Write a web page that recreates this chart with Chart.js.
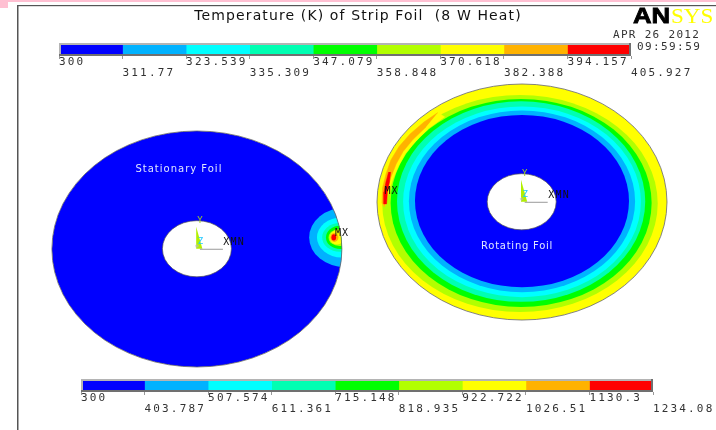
<!DOCTYPE html>
<html>
<head>
<meta charset="utf-8">
<title>Temperature (K) of Strip Foil</title>
<script src="https://cdn.jsdelivr.net/npm/chart.js@4/dist/chart.umd.js"></script>
<style>
  html, body { margin: 0; padding: 0; background: #fff; overflow: hidden; }
  canvas { position: absolute; left: 0; }
  #main { top: 0; }
  #tempBar { top: 43px; }
  #heatBar { top: 379px; }
</style>
</head>
<body>
<canvas id="main" width="716" height="430"></canvas>
<canvas id="tempBar" width="716" height="43"></canvas>
<canvas id="heatBar" width="716" height="43"></canvas>
<script>
// Contour colours, coolest to hottest
const bandColors = ['#0000ff', '#00b2ff', '#00ffff', '#00ffb2', '#00ff00', '#b2ff00', '#ffff00', '#ffb200', '#ff0000'];

// Colour bar limits
const tempTicks = [300, 311.77, 323.539, 335.309, 347.079, 358.848, 370.618, 382.388, 394.157, 405.927];
const tempLabels = ['300', '311.77', '323.539', '335.309', '347.079', '358.848', '370.618', '382.388', '394.157', '405.927'];
const heatTicks = [300, 403.787, 507.574, 611.361, 715.148, 818.935, 922.722, 1026.51, 1130.3, 1234.08];
const heatLabels = ['300', '403.787', '507.574', '611.361', '715.148', '818.935', '922.722', '1026.51', '1130.3', '1234.08'];

// Stationary foil: disc, hot spot contours, centre hole (mm)
const statColors = [0, 1, 2, 3, 4, 5, 6, 7, 8];
const statX = [67.9, 119.3, 117.8, 117.2, 117.3, 117.1, 116.2, 115.3, 115.1];
const statY = [76.7, 81.6, 81.6, 81.6, 81.6, 81.6, 81.6, 81.6, 81.6];
const statRx = [50, 12.7, 8.5, 6.1, 4.9, 3.8, 2.5, 1.4, 0.8];
const statRy = [50, 12.7, 8.5, 6.1, 4.9, 3.6, 3.0, 1.9, 1.3];
const statHole = { x: 67.9, y: 76.8, r: 11.9 };

// Rotating foil: disc and contour rings, outside to inside (mm)
const rotColors = [6, 5, 4, 3, 2, 1, 0];
const rotX = [180, 179.3, 179.7, 179.7, 180, 180, 180];
const rotY = [96.6, 96.0, 96.2, 96.8, 96.7, 96.9, 97.0];
const rotRx = [50, 47.5, 45.0, 42.8, 41.0, 39.0, 36.9];
const rotRy = [50, 46.0, 44.1, 42.5, 40.4, 38.5, 36.5];
const rotHole = { x: 179.9, y: 96.7, r: 11.9 };

// Hot crescents on the rotating foil
const yellowX = [153.4, 151.0, 146.2, 141.4, 137.6, 134.8, 133.1, 131.9, 131.7, 132.6, 134.0, 135.5, 137.4, 139.8, 143.3, 147.6];
const yellowY = [132.6, 134.5, 130.5, 125.4, 120.1, 114.4, 108.5, 102.5, 96.2, 94.5, 100.8, 106.4, 111.9, 117.2, 122.2, 127.5];
const orangeX = [151.0, 146.2, 141.4, 137.6, 134.8, 133.1, 131.9, 131.7, 132.6, 133.4, 134.7, 136.6, 139.0, 142.4, 146.9];
const orangeY = [134.5, 130.5, 125.4, 120.1, 114.4, 108.5, 102.5, 96.2, 94.5, 100.8, 106.8, 112.7, 118.0, 123.1, 128.4];
const redX = [134.0, 133.1, 132.4, 132.4, 133.3, 133.6, 134.3, 134.7];
const redY = [109.3, 105.1, 100.8, 95.8, 95.8, 100.8, 105.1, 109.3];

const monoFont = '"DejaVu Sans Mono"';
const sansFont = '"DejaVu Sans"';

function ringSets(xs, ys, rxs, rys, colors, group) {
  return xs.map((x, i) => ({
    label: group + ' ' + i,
    ring: true,
    data: [{ x: x, y: ys[i], rx: rxs[i], ry: rys[i] }],
    backgroundColor: bandColors[colors[i]],
    pointRadius: 0
  }));
}

function crescent(xs, ys, color, name) {
  return {
    label: name,
    data: xs.map((x, i) => ({ x: x, y: ys[i] })),
    showLine: true,
    fill: 'shape',
    backgroundColor: color,
    borderColor: color,
    borderWidth: 0.5,
    pointRadius: 0
  };
}

const ellipsePath = (ctx, chart, c, rx, ry) => {
  const sx = chart.scales.x, sy = chart.scales.y;
  const px = sx.getPixelForValue(c.x), py = sy.getPixelForValue(c.y);
  ctx.beginPath();
  ctx.ellipse(px, py,
    Math.abs(sx.getPixelForValue(c.x + rx) - px),
    Math.abs(sy.getPixelForValue(c.y + ry) - py), 0, 0, Math.PI * 2);
};

const drawText = (ctx, text, x, y, font, color, spacing, align) => {
  ctx.save();
  ctx.font = font;
  ctx.fillStyle = color;
  ctx.letterSpacing = spacing + 'px';
  ctx.textAlign = align || 'center';
  ctx.textBaseline = 'middle';
  ctx.fillText(text, x, y);
  ctx.restore();
};

function drawTriad(ctx, chart, hole, xLabelAt) {
  const cx = chart.scales.x.getPixelForValue(hole.x);
  const cy = chart.scales.y.getPixelForValue(hole.y);
  ctx.save();
  ctx.fillStyle = '#b2f000';
  ctx.beginPath();
  ctx.moveTo(cx - 0.7, cy - 22);
  ctx.lineTo(cx + 5.5, cy);
  ctx.lineTo(cx - 0.7, cy);
  ctx.closePath();
  ctx.fill();
  ctx.strokeStyle = '#999';
  ctx.lineWidth = 1;
  ctx.beginPath();
  ctx.moveTo(cx + 3, cy + 0.5);
  ctx.lineTo(cx + 26, cy + 0.5);
  ctx.stroke();
  ctx.restore();
  drawText(ctx, 'Y', cx + 3, cy - 28.5, '9px ' + monoFont, '#9ed020', 0);
  drawText(ctx, 'Z', cx + 3.5, cy - 7, '9px ' + monoFont, '#20c8ff', 0);
  drawText(ctx, '*', cx, cy, '9px ' + monoFont, '#bbb', 0);
  drawText(ctx, 'XMN', chart.scales.x.getPixelForValue(xLabelAt.x), chart.scales.y.getPixelForValue(xLabelAt.y), '10px ' + monoFont, '#111', 1.2);
}

// Draws the foils through the scales, below the crescent datasets
const foilPlugin = {
  id: 'foils',
  beforeDraw(chart) {
    const ctx = chart.ctx;
    ctx.letterSpacing = '1.12px';
    ctx.save();
    ctx.fillStyle = '#ffc0d2';
    ctx.fillRect(0, 0, 716, 2);
    ctx.fillRect(0, 0, 8, 8);
    ctx.fillStyle = '#555';
    ctx.fillRect(17, 5, 1.5, 425);
    ctx.fillRect(17, 5, 699, 1.2);
    ctx.restore();
  },
  beforeDatasetsDraw(chart) {
    const ctx = chart.ctx;
    ctx.letterSpacing = '0px';
    const rings = chart.data.datasets.filter(d => d.ring);
    [statRx.length, rings.length].forEach((end, k) => {
      const group = k === 0 ? rings.slice(0, end) : rings.slice(statRx.length, end);
      const disc = group[0].data[0];
      ctx.save();
      ellipsePath(ctx, chart, disc, disc.rx, disc.ry);
      ctx.clip();
      group.forEach(d => {
        const p = d.data[0];
        ctx.fillStyle = d.backgroundColor;
        ellipsePath(ctx, chart, p, p.rx, p.ry);
        ctx.fill();
      });
      ctx.restore();
      ctx.strokeStyle = '#666';
      ctx.lineWidth = 0.8;
      ellipsePath(ctx, chart, disc, disc.rx, disc.ry);
      ctx.stroke();
    });
    [statHole, rotHole].forEach(h => {
      ctx.fillStyle = '#fff';
      ctx.strokeStyle = '#555';
      ctx.lineWidth = 0.7;
      ellipsePath(ctx, chart, h, h.r, h.r);
      ctx.fill();
      ctx.stroke();
    });
  },
  afterDraw(chart) {
    const ctx = chart.ctx, sx = chart.scales.x, sy = chart.scales.y;
    ctx.letterSpacing = '0px';
    drawTriad(ctx, chart, statHole, { x: 80.7, y: 79.7 });
    drawTriad(ctx, chart, rotHole, { x: 192.8, y: 99.2 });
    const at = (x, y) => [sx.getPixelForValue(x), sy.getPixelForValue(y)];
    drawText(ctx, 'Stationary Foil', ...at(61.7, 110.6), '10px ' + sansFont, '#dfe6ff', 1);
    drawText(ctx, 'Rotating Foil', ...at(178.3, 78.0), '10px ' + sansFont, '#dfe6ff', 0.75);
    drawText(ctx, 'MX', ...at(117.9, 83.1), '10px ' + monoFont, '#111', 1);
    drawText(ctx, 'MX', ...at(135, 101), '10px ' + monoFont, '#111', 1);
    drawText(ctx, 'APR 26 2012', 613, 35.5, '11px ' + monoFont, '#333', 1.3, 'left');
    drawText(ctx, '09:59:59', 637, 47.5, '11px ' + monoFont, '#333', 1.4, 'left');
    // logo
    ctx.save();
    ctx.translate(633, 23);
    ctx.scale(1.17, 1);
    ctx.font = 'bold 22px "Liberation Sans"';
    ctx.fillStyle = '#000';
    ctx.strokeStyle = '#000';
    ctx.lineWidth = 0.8;
    ctx.textBaseline = 'alphabetic';
    ctx.fillText('AN', 0, 0);
    ctx.strokeText('AN', 0, 0);
    ctx.restore();
    ctx.save();
    ctx.translate(671, 23);
    ctx.scale(1.05, 1);
    ctx.font = '22px "Liberation Serif"';
    ctx.fillStyle = '#ffff00';
    ctx.textBaseline = 'alphabetic';
    ctx.fillText('SYS', 0, 0);
    ctx.restore();
  }
};

new Chart(document.getElementById('main'), {
  type: 'scatter',
  plugins: [foilPlugin],
  data: {
    datasets: [
      // chart.js paints the first dataset last, so hottest goes first
      crescent(redX, redY, bandColors[8], 'Rotating 394.157'),
      crescent(orangeX, orangeY, bandColors[7], 'Rotating 382.388'),
      crescent(yellowX, yellowY, bandColors[6], 'Rotating 370.618'),
      ...ringSets(statX, statY, statRx, statRy, statColors, 'Stationary'),
      ...ringSets(rotX, rotY, rotRx, rotRy, rotColors, 'Rotating')
    ]
  },
  options: {
    responsive: false,
    animation: false,
    layout: { padding: 0 },
    plugins: {
      legend: { display: false },
      tooltip: { enabled: false },
      title: {
        display: true,
        text: 'Temperature (K) of Strip Foil  (8 W Heat)',
        color: '#111',
        font: { family: 'DejaVu Sans', size: 14, weight: 'normal', lineHeight: 1.2 },
        padding: { top: 8, bottom: 5.2 }
      }
    },
    scales: {
      x: { type: 'linear', display: false, min: 0, max: 246.9 },
      y: { type: 'linear', display: false, min: 0, max: 169.49 }
    }
  }
});

// Bevelled edge round a colour bar
const bevelPlugin = {
  id: 'bevel',
  beforeDraw(chart) {
    chart.ctx.letterSpacing = '2.15px';
  },
  afterDatasetsDraw(chart) {
    const ctx = chart.ctx, a = chart.chartArea;
    ctx.save();
    ctx.fillStyle = '#b4b4b4';
    ctx.fillRect(a.left, a.top, a.right - a.left, 2);
    ctx.fillRect(a.left, a.top, 2, a.bottom - a.top);
    ctx.fillStyle = '#707070';
    ctx.fillRect(a.left, a.bottom - 2, a.right - a.left, 2);
    ctx.fillRect(a.right - 2, a.top, 2, a.bottom - a.top);
    ctx.restore();
  }
};

function colourBar(id, ticks, labels, left, right) {
  new Chart(document.getElementById(id), {
    type: 'bar',
    plugins: [bevelPlugin],
    data: {
      labels: [''],
      datasets: bandColors.map((color, i) => ({
        label: labels[i],
        data: [[ticks[i], ticks[i + 1]]],
        backgroundColor: color,
        grouped: false,
        barPercentage: 1,
        categoryPercentage: 1
      }))
    },
    options: {
      indexAxis: 'y',
      responsive: false,
      animation: false,
      layout: { padding: { left: left, right: right, top: 0, bottom: 0 } },
      plugins: { legend: { display: false }, tooltip: { enabled: false } },
      scales: {
        y: { display: false },
        x: {
          type: 'linear',
          min: ticks[0],
          max: ticks[ticks.length - 1],
          border: { display: false },
          grid: { drawOnChartArea: false, drawTicks: true, tickLength: 3, color: '#999' },
          afterBuildTicks: s => { s.ticks = ticks.map(v => ({ value: v })); },
          afterFit: s => { s.height = 30; },
          ticks: {
            autoSkip: false,
            maxRotation: 0,
            minRotation: 0,
            align: 'start',
            padding: -2,
            color: '#333',
            font: { family: 'DejaVu Sans Mono', size: 11, lineHeight: 0.95 },
            callback: (v, i) => (i % 2 ? ['', labels[i]] : labels[i])
          }
        }
      }
    }
  });
}

colourBar('tempBar', tempTicks, tempLabels, 59, 85);
colourBar('heatBar', heatTicks, heatLabels, 81, 63);
</script>
</body>
</html>
